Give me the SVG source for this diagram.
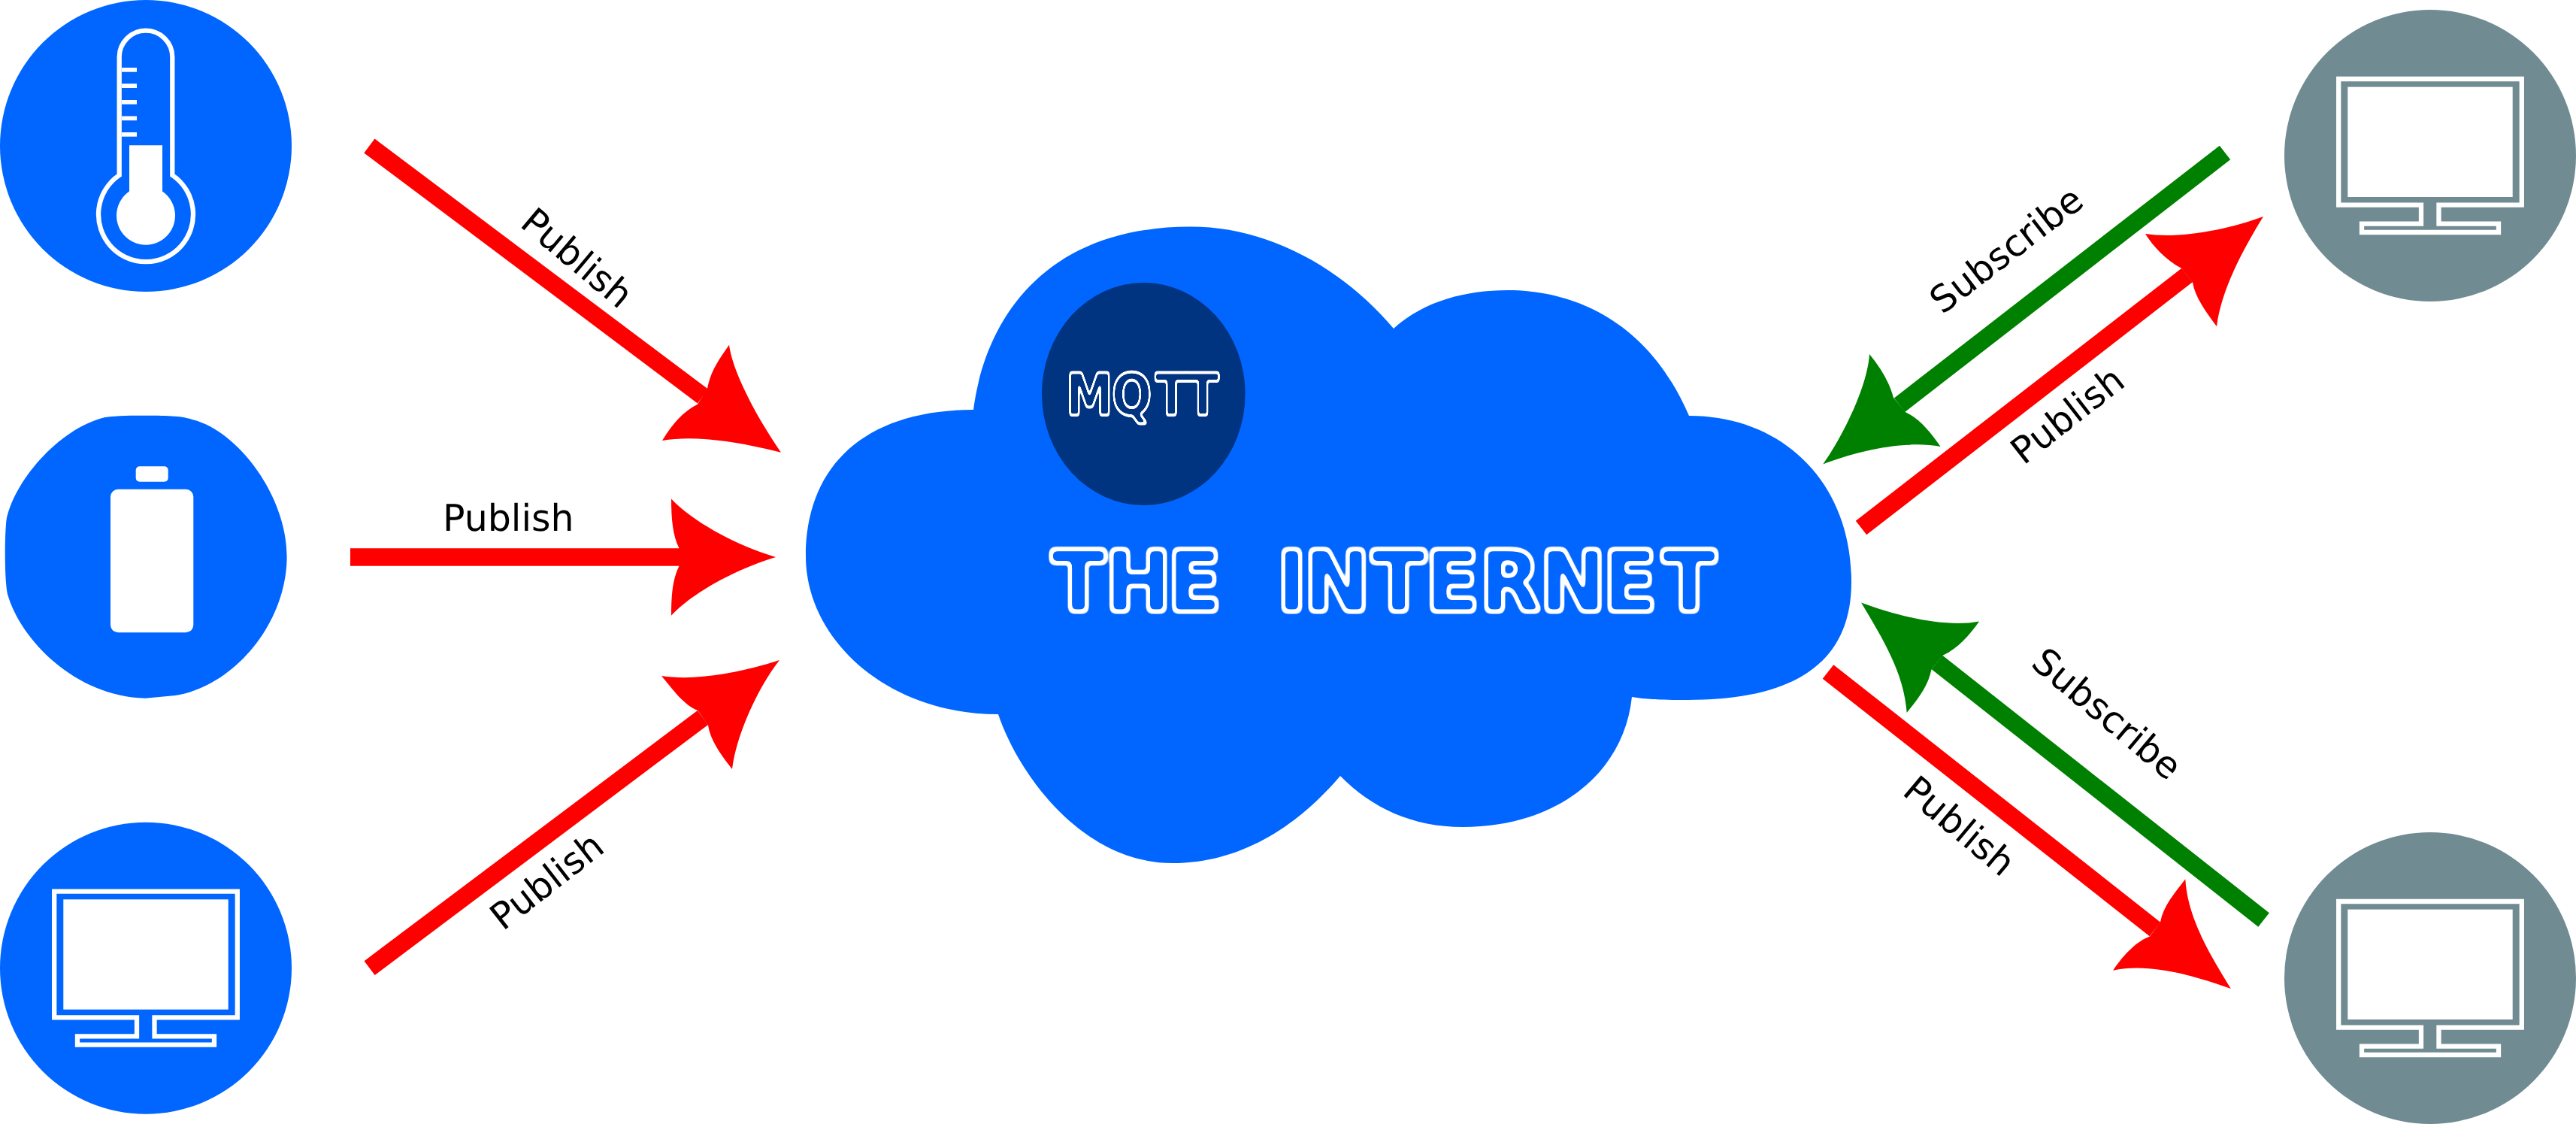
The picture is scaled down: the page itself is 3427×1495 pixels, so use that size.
<svg xmlns="http://www.w3.org/2000/svg" xmlns:xlink="http://www.w3.org/1999/xlink" width="3427" height="1495" viewBox="0 0 3427 1495">
<style>
text{text-rendering:geometricPrecision}
.blue{fill:#0066ff}
.gray{fill:#708b91}
.w{fill:#ffffff}
.wl{fill:none;stroke:#ffffff;stroke-width:6.3}
.r{stroke:#ff0000;stroke-width:23.5;fill:none}
.g{stroke:#008000;stroke-width:23.5;fill:none}
.rh{fill:#ff0000}
.gh{fill:#008000}
.lbl{font-family:"DejaVu Sans",sans-serif;font-size:49px;fill:#000000}
.out{font-family:"DejaVu Sans",sans-serif;font-weight:bold;fill:#ffffff}
</style>
<defs>
<g id="monitor">
<path class="wl" d="M72.2 1185.7H315.8V1353.3H205.5V1378.3H285V1389.7H103V1378.3H182V1353.3H72.2Z"/>
<rect class="w" x="84.3" y="1196.3" width="219.4" height="146.4"/>
</g>
<filter id="ringL" filterUnits="userSpaceOnUse" x="1440" y="700" width="1040" height="140" color-interpolation-filters="sRGB">
<feGaussianBlur in="SourceAlpha" stdDeviation="3.5" result="b"/>
<feComponentTransfer in="b" result="outer"><feFuncA type="linear" slope="12" intercept="-0.7"/></feComponentTransfer>
<feComponentTransfer in="b" result="inner"><feFuncA type="linear" slope="12" intercept="-7.5"/></feComponentTransfer>
<feComposite in="outer" in2="inner" operator="out" result="ring"/>
<feFlood flood-color="#ffffff"/>
<feComposite in2="ring" operator="in"/>
</filter>
<filter id="ringS" filterUnits="userSpaceOnUse" x="1700" y="470" width="300" height="120" color-interpolation-filters="sRGB">
<feGaussianBlur in="SourceAlpha" stdDeviation="2" result="b"/>
<feComponentTransfer in="b" result="outer"><feFuncA type="linear" slope="12" intercept="-1.42"/></feComponentTransfer>
<feComponentTransfer in="b" result="inner"><feFuncA type="linear" slope="12" intercept="-8.98"/></feComponentTransfer>
<feComposite in="outer" in2="inner" operator="out" result="ring"/>
<feFlood flood-color="#ffffff"/>
<feComposite in2="ring" operator="in"/>
</filter>
</defs>
<rect width="3427" height="1495" fill="#ffffff"/>
<g id="cloud">
<path class="blue" d="M1295 545C1310 430 1385 302 1583 301.6C1680 301 1780 350 1854 437C1895 400 1950 386 2006 386C2085 386 2190 420 2247 553C2370 553 2463 640 2463 774C2463 880 2390 931 2245 931C2205 931 2190 930 2171 927C2160 1030 2070 1100 1946 1100C1880 1100 1825 1075 1783 1032C1725 1100 1650 1148 1560 1148C1440 1148 1355 1030 1328 950C1180 950 1072 850 1072 740C1072 620 1150 545 1295 545Z"/>
<text class="out" filter="url(#ringL)" transform="scale(.95 1)" x="1472.6 1547.8 1635.2 1726.3 1788.5 1826.4 1921.1 1996.3 2072.7 2156.6 2245.4 2327.9" y="811.5" font-size="110">THE INTERNET</text>
</g>
<g id="mqtt-broker">
<ellipse cx="1521.3" cy="524" rx="135.3" ry="148" fill="#003380"/>
<text class="out" filter="url(#ringS)" transform="scale(.82 1)" x="1729.3 1803.4 1874 1924.9" y="552" font-size="77">MQTT</text>
</g>
<g id="sensor">
<circle class="blue" cx="194" cy="194" r="194"/>
<path class="wl" d="M158.7 233V76A35.3 35.3 0 0 1 229.3 76V233A63 63 0 1 1 158.7 233Z"/>
<path class="w" d="M172 193.3H216V254.5A39 39 0 1 1 172 254.5Z"/>
<rect class="w" x="162" y="90" width="20" height="5.7"/>
<rect class="w" x="162" y="111.3" width="20" height="5.7"/>
<rect class="w" x="162" y="133" width="20" height="5.7"/>
<rect class="w" x="162" y="154.5" width="20" height="5.7"/>
<rect class="w" x="162" y="176" width="20" height="5.7"/>
</g>
<g id="battery">
<path class="blue" transform="translate(0 530) scale(.3333)" d="M580 68C680 68 730 70 770 85C950 130 1145 390 1145 630C1145 900 930 1150 700 1185L580 1196C300 1190 80 960 30 780C18 730 18 560 25 490C50 340 230 120 420 75C470 68 530 68 580 68Z"/>
<rect class="w" x="147" y="650.7" width="110.3" height="190.6" rx="10"/>
<rect class="w" x="180.7" y="620.3" width="43" height="20.4" rx="5"/>
</g>
<g id="computer-left">
<circle class="blue" cx="194" cy="1287.7" r="194"/>
<use xlink:href="#monitor" href="#monitor"/>
</g>
<g id="subscriber-top">
<circle class="gray" cx="3233" cy="207" r="194"/>
<use xlink:href="#monitor" href="#monitor" transform="translate(3039 -1080.7)"/>
</g>
<g id="subscriber-bottom">
<circle class="gray" cx="3233" cy="1301" r="194"/>
<use xlink:href="#monitor" href="#monitor" transform="translate(3039 13.3)"/>
</g>
<g id="connectors">
<path class="r" d="M491.4 194L935 527"/>
<path class="rh" d="M970 458.7C974 490 1000 545 1039 601.7C985 588 925 578 881 586C895 563 908 548 928 537.7L941 516.7C945 495 955 480 970 458.7Z"/>
<path class="r" d="M466 741H910"/>
<path class="rh" d="M893 663.4C925 697 985 727 1032 741C985 755 925 785 893 818.7C893 790 895 770 903.4 753V729C895 712 893 690 893 663.4Z"/>
<path class="r" d="M491.6 1287.6L935 954.5"/>
<path class="rh" d="M880 899C925 906 985 895 1037 878C1010 912 980 975 974 1023C960 1005 945 985 942 964.4L928.3 945C910 938 895 917 880 899Z"/>
<path class="g" d="M2960 203L2527 538.7"/>
<path class="gh" d="M2487 471C2485 510 2455 575 2425.3 617.5C2470 600 2535 585 2581.6 594C2568 575 2555 558 2534.7 548L2519 529C2514 510 2503 490 2487 471Z"/>
<path class="r" d="M2476 702L2909.6 366"/>
<path class="rh" d="M2853.9 311C2900 318 2965 305 3011 287.9C2985 330 2955 385 2949 434.3C2935 415 2920 395 2917 375.7L2902 356.8C2880 345 2865 328 2853.9 311Z"/>
<path class="g" d="M3011.6 1223.5L2577 881"/>
<path class="gh" d="M2476 801.4C2525 820 2590 835 2633 826.4C2620 845 2605 862 2584.5 871.8L2569.4 890.7C2565 912 2553 928 2536.7 947.9C2533 895 2505 850 2476 801.4Z"/>
<path class="r" d="M2432 893.4L2867 1236"/>
<path class="rh" d="M2907.3 1169.3C2910 1220 2940 1270 2967.8 1315C2920 1298 2860 1280 2811 1290.7C2825 1270 2842 1252 2860 1245.4L2874 1226.4C2878 1205 2893 1188 2907.3 1169.3Z"/>
</g>
<g id="labels">
<text class="lbl" transform="translate(690 300) rotate(40)">Publish</text>
<text class="lbl" x="589" y="706">Publish</text>
<text class="lbl" transform="translate(669 1239) rotate(-38)">Publish</text>
<text class="lbl" transform="translate(2584 419) rotate(-37.5)">Subscribe</text>
<text class="lbl" transform="translate(2692 619.4) rotate(-38)">Publish</text>
<text class="lbl" transform="translate(2700 885) rotate(40)">Subscribe</text>
<text class="lbl" transform="translate(2529 1055.5) rotate(40)">Publish</text>
</g>
</svg>
